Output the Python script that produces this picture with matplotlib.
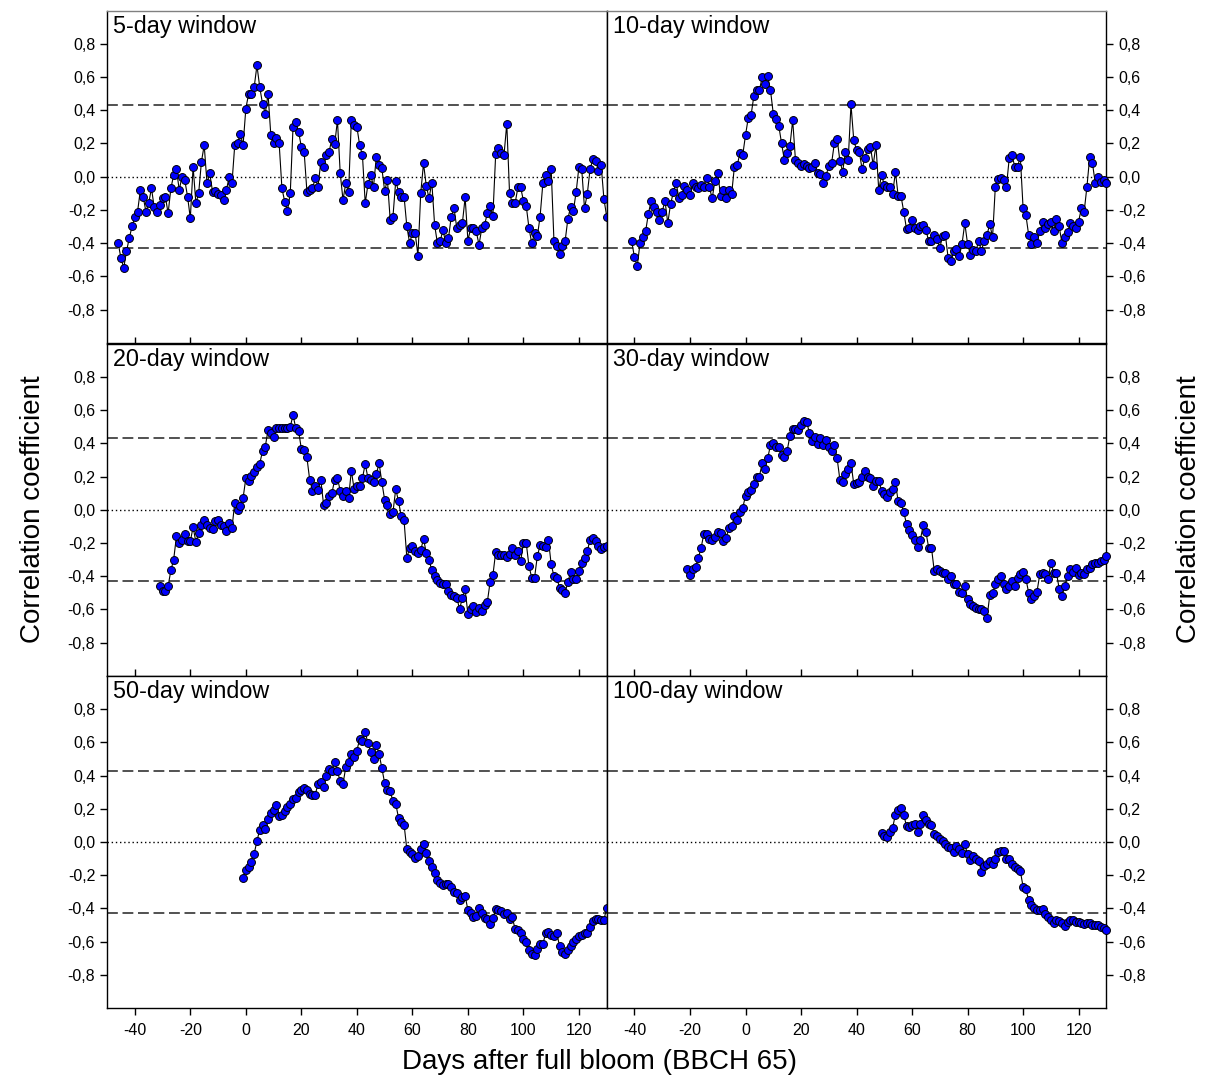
import numpy as np
import matplotlib.pyplot as plt
from matplotlib.ticker import FuncFormatter

plt.rcParams['font.family'] = ['Liberation Sans', 'DejaVu Sans']
plt.rcParams['axes.unicode_minus'] = False

# critical correlation coefficient (dashed lines)
r_crit = 0.43

# daily correlation coefficients, first value at day start_*
start_5 = -46
r_5 = [-0.40, -0.49, -0.55, -0.45, -0.37, -0.30, -0.245, -0.21, -0.08, -0.12,
       -0.21, -0.16, -0.07, -0.185, -0.21, -0.17, -0.13, -0.12, -0.22, -0.07,
       0.01, 0.045, -0.08, 0.00, -0.02, -0.12, -0.25, 0.06, -0.16, -0.10,
       0.09, 0.19, -0.04, 0.02, -0.09, -0.085, -0.105, -0.11, -0.14, -0.08,
       0.00, -0.04, 0.19, 0.20, 0.26, 0.19,
       0.41, 0.50, 0.50, 0.54, 0.67, 0.54, 0.44, 0.38, 0.50, 0.25,
       0.20, 0.235, 0.20, -0.07, -0.15, -0.205, -0.10, 0.30, 0.33, 0.27,
       0.18, 0.15, -0.09, -0.08, -0.07, -0.01, -0.06, 0.09, 0.06, 0.13,
       0.15, 0.23, 0.195, 0.34, 0.02, -0.14, -0.04, -0.095, 0.34, 0.31,
       0.30, 0.19, 0.13, -0.16, -0.045, 0.01, -0.06, 0.12, 0.07, 0.05,
       -0.085, -0.02, -0.26, -0.24, -0.025, -0.09, -0.125, -0.12, -0.30, -0.40,
       -0.34, -0.34, -0.475, -0.10, 0.08, -0.055, -0.13, -0.035, -0.29, -0.40,
       -0.39, -0.32, -0.40, -0.37, -0.24, -0.19, -0.31, -0.29, -0.28, -0.125,
       -0.385, -0.31, -0.31, -0.33, -0.41, -0.31, -0.29, -0.22, -0.175, -0.235,
       0.135, 0.17, 0.14, 0.13, 0.32, -0.10, -0.16, -0.16, -0.065, -0.065,
       -0.145, -0.175, -0.31, -0.40, -0.34, -0.36, -0.24, -0.04, 0.01, -0.025,
       0.045, -0.39, -0.42, -0.465, -0.415, -0.39, -0.255, -0.18, -0.205, -0.09,
       0.06, 0.045, -0.19, -0.105, 0.045, 0.105, 0.095, 0.035, 0.07, -0.135,
       -0.24]

start_10 = -41
r_10 = [-0.39, -0.485, -0.54, -0.40, -0.365, -0.33, -0.225, -0.145, -0.18, -0.21,
        -0.26, -0.21, -0.145, -0.28, -0.165, -0.095, -0.035, -0.13, -0.11, -0.055,
        -0.08, -0.11, -0.035, -0.065, -0.07, -0.05, -0.06, -0.005, -0.065, -0.13,
        -0.025, 0.025, -0.115, -0.08, -0.13, -0.08, -0.105, 0.06, 0.07, 0.14,
        0.13,
        0.25, 0.355, 0.37, 0.485, 0.52, 0.52, 0.60, 0.56, 0.605, 0.52,
        0.38, 0.35, 0.305, 0.20, 0.10, 0.14, 0.185, 0.34, 0.10, 0.08,
        0.065, 0.075, 0.065, 0.05, 0.06, 0.08, 0.025, 0.015, -0.035, 0.005,
        0.065, 0.08, 0.20, 0.23, 0.095, 0.03, 0.15, 0.10, 0.435, 0.22,
        0.16, 0.15, 0.045, 0.115, 0.165, 0.18, 0.07, 0.19, -0.08, 0.01,
        -0.05, -0.06, -0.06, -0.105, 0.03, -0.115, -0.115, -0.21, -0.315, -0.31,
        -0.26, -0.31, -0.32, -0.295, -0.29, -0.32, -0.39, -0.39, -0.35, -0.375,
        -0.43, -0.355, -0.35, -0.49, -0.51, -0.45, -0.435, -0.48, -0.405, -0.28,
        -0.405, -0.47, -0.44, -0.445, -0.39, -0.445, -0.385, -0.35, -0.285, -0.365,
        -0.06, -0.015, -0.01, -0.02, -0.06, 0.11, 0.13, 0.06, 0.06, 0.12,
        -0.19, -0.23, -0.35, -0.405, -0.365, -0.40, -0.33, -0.275, -0.31, -0.285,
        -0.275, -0.33, -0.255, -0.30, -0.40, -0.365, -0.335, -0.28, -0.30, -0.31,
        -0.27, -0.19, -0.21, -0.06, 0.12, 0.08, -0.04, 0.00, -0.03, -0.02,
        -0.04]

start_20 = -31
r_20 = [-0.46, -0.49, -0.49, -0.46, -0.365, -0.30, -0.16, -0.20, -0.18, -0.145,
        -0.19, -0.19, -0.105, -0.195, -0.14, -0.09, -0.06, -0.095, -0.11, -0.115,
        -0.07, -0.065, -0.09, -0.10, -0.13, -0.08, -0.11, 0.04, 0.00, 0.02,
        0.07,
        0.19, 0.175, 0.205, 0.225, 0.26, 0.275, 0.355, 0.38, 0.48, 0.46,
        0.44, 0.49, 0.495, 0.49, 0.49, 0.495, 0.50, 0.57, 0.49, 0.475,
        0.365, 0.36, 0.315, 0.18, 0.115, 0.14, 0.12, 0.18, 0.03, 0.04,
        0.085, 0.10, 0.18, 0.19, 0.115, 0.08, 0.11, 0.07, 0.235, 0.125,
        0.14, 0.145, 0.19, 0.275, 0.19, 0.18, 0.165, 0.215, 0.28, 0.165,
        0.06, 0.03, -0.025, -0.015, 0.125, 0.05, -0.04, -0.065, -0.29, -0.23,
        -0.22, -0.25, -0.26, -0.245, -0.175, -0.26, -0.305, -0.365, -0.40, -0.425,
        -0.44, -0.45, -0.45, -0.49, -0.515, -0.52, -0.53, -0.60, -0.53, -0.48,
        -0.63, -0.60, -0.58, -0.615, -0.595, -0.61, -0.575, -0.555, -0.435, -0.395,
        -0.255, -0.275, -0.27, -0.27, -0.285, -0.265, -0.23, -0.27, -0.25, -0.31,
        -0.20, -0.20, -0.34, -0.41, -0.41, -0.28, -0.215, -0.22, -0.225, -0.18,
        -0.33, -0.40, -0.41, -0.47, -0.485, -0.50, -0.435, -0.375, -0.42, -0.42,
        -0.37, -0.32, -0.29, -0.25, -0.18, -0.17, -0.19, -0.22, -0.235, -0.225,
        -0.22]

start_30 = -21
r_30 = [-0.36, -0.395, -0.355, -0.345, -0.29, -0.23, -0.145, -0.145, -0.175, -0.185,
        -0.165, -0.135, -0.14, -0.19, -0.17, -0.11, -0.10, -0.04, -0.06, -0.015,
        0.01,
        0.085, 0.105, 0.12, 0.155, 0.20, 0.20, 0.28, 0.245, 0.31, 0.39,
        0.40, 0.38, 0.38, 0.33, 0.32, 0.355, 0.445, 0.485, 0.485, 0.48,
        0.51, 0.535, 0.53, 0.465, 0.415, 0.435, 0.395, 0.43, 0.39, 0.42,
        0.38, 0.355, 0.39, 0.31, 0.18, 0.165, 0.215, 0.245, 0.28, 0.155,
        0.16, 0.165, 0.20, 0.235, 0.20, 0.19, 0.145, 0.175, 0.175, 0.115,
        0.095, 0.075, 0.105, 0.125, 0.165, 0.05, 0.04, -0.015, -0.085, -0.125,
        -0.155, -0.185, -0.225, -0.18, -0.095, -0.135, -0.23, -0.23, -0.37, -0.36,
        -0.37, -0.38, -0.38, -0.415, -0.40, -0.445, -0.445, -0.495, -0.50, -0.46,
        -0.54, -0.565, -0.58, -0.595, -0.60, -0.60, -0.61, -0.65, -0.515, -0.50,
        -0.45, -0.42, -0.40, -0.45, -0.48, -0.46, -0.43, -0.46, -0.41, -0.39,
        -0.375, -0.415, -0.50, -0.54, -0.52, -0.495, -0.39, -0.38, -0.39, -0.42,
        -0.32, -0.38, -0.38, -0.475, -0.52, -0.46, -0.40, -0.36, -0.375, -0.35,
        -0.395, -0.38, -0.385, -0.36, -0.35, -0.33, -0.32, -0.32, -0.31, -0.30,
        -0.28]

start_50 = -1
r_50 = [-0.215,
        -0.17, -0.15, -0.12, -0.07, 0.005, 0.075, 0.105, 0.08, 0.14, 0.175,
        0.195, 0.225, 0.155, 0.16, 0.185, 0.21, 0.23, 0.26, 0.265, 0.30,
        0.31, 0.325, 0.31, 0.29, 0.28, 0.285, 0.35, 0.36, 0.33, 0.40,
        0.44, 0.43, 0.48, 0.425, 0.365, 0.35, 0.45, 0.48, 0.53, 0.51,
        0.55, 0.62, 0.61, 0.66, 0.595, 0.54, 0.50, 0.585, 0.53, 0.445,
        0.355, 0.31, 0.305, 0.245, 0.23, 0.145, 0.12, 0.105, -0.045, -0.06,
        -0.07, -0.095, -0.085, -0.045, -0.01, -0.065, -0.115, -0.15, -0.185, -0.23,
        -0.25, -0.26, -0.255, -0.255, -0.27, -0.30, -0.31, -0.35, -0.33, -0.325,
        -0.41, -0.425, -0.45, -0.445, -0.40, -0.425, -0.46, -0.465, -0.495, -0.46,
        -0.405, -0.41, -0.415, -0.435, -0.43, -0.465, -0.455, -0.525, -0.53, -0.55,
        -0.585, -0.60, -0.65, -0.675, -0.68, -0.645, -0.615, -0.615, -0.55, -0.545,
        -0.56, -0.565, -0.55, -0.625, -0.665, -0.675, -0.65, -0.625, -0.60, -0.585,
        -0.565, -0.56, -0.55, -0.55, -0.515, -0.475, -0.465, -0.465, -0.47, -0.47,
        -0.395]

start_100 = 49
r_100 = [0.055, 0.035, 0.03, 0.06, 0.085, 0.165, 0.195, 0.205, 0.165, 0.095, 0.09,
         0.10, 0.11, 0.06, 0.11, 0.165, 0.135, 0.11, 0.10, 0.05, 0.035,
         0.015, 0.005, -0.01, -0.03, -0.035, -0.06, -0.025, -0.045, -0.065, -0.015,
         -0.075, -0.11, -0.085, -0.10, -0.115, -0.18, -0.145, -0.135, -0.115, -0.13,
         -0.10, -0.06, -0.055, -0.055, -0.10, -0.105, -0.135, -0.15, -0.16, -0.175,
         -0.27, -0.285, -0.35, -0.38, -0.395, -0.41, -0.41, -0.405, -0.435, -0.45,
         -0.47, -0.49, -0.47, -0.475, -0.49, -0.505, -0.485, -0.47, -0.47, -0.48,
         -0.485, -0.49, -0.495, -0.49, -0.49, -0.50, -0.50, -0.50, -0.51, -0.52,
         -0.53]

windows = [('5-day window', start_5, r_5),
           ('10-day window', start_10, r_10),
           ('20-day window', start_20, r_20),
           ('30-day window', start_30, r_30),
           ('50-day window', start_50, r_50),
           ('100-day window', start_100, r_100)]

# panel grid (figure fractions)
col_left = [0.0884, 0.5010]
width = 0.4126
rows = [0.6853, 0.3795, 0.0744]
height = 0.3049


def comma_fmt(v, pos):
    v = round(v, 1)
    if abs(v) < 1e-9:
        v = 0.0
    return ('%.1f' % v).replace('.', ',')


fig = plt.figure(figsize=(12.11, 10.89), dpi=100)

for i, (title, start, vals) in enumerate(windows):
    row, col = divmod(i, 2)
    ax = fig.add_axes([col_left[col], rows[row], width, height])

    days = np.arange(start, start + len(vals))
    ax.axhline(r_crit, color='#333333', lw=1.2, dashes=(6.5, 2.8), zorder=1)
    ax.axhline(-r_crit, color='#333333', lw=1.2, dashes=(6.5, 2.8), zorder=1)
    ax.axhline(0, color='black', lw=1.0, ls=(0, (1, 2)), zorder=1)
    # markers on the frame edge are drawn whole
    ax.plot(days, vals, '-', color='black', lw=0.8, marker='o', ms=5.7,
            mfc='#0000ff', mec='black', mew=0.7, zorder=3, clip_on=False)

    ax.set_xlim(-50, 130)
    ax.set_ylim(-1, 1)
    ax.set_xticks(range(-40, 121, 20))
    ax.set_yticks(np.arange(-0.8, 0.81, 0.2))
    ax.yaxis.set_major_formatter(FuncFormatter(comma_fmt))
    ax.tick_params(direction='out', length=5, width=1, labelsize=11.5)

    if col == 1:
        ax.yaxis.tick_right()
    last = row == 2
    ax.tick_params(axis='x', top=row > 0, bottom=last, labelbottom=last)
    if last:
        ax.tick_params(axis='x', pad=6)

    for s in ax.spines.values():
        s.set_linewidth(1.0)
    if row == 0:
        ax.spines['top'].set_color('#808080')

    ax.text(0.012, 0.988, title, transform=ax.transAxes, ha='left', va='top',
            fontsize=16.8)

fig.text(0.027, 0.5326, 'Correlation coefficient', rotation=90,
         ha='center', va='center', fontsize=20)
fig.text(0.982, 0.5326, 'Correlation coefficient', rotation=90,
         ha='center', va='center', fontsize=20)
fig.text(0.495, 0.025, 'Days after full bloom (BBCH 65)',
         ha='center', va='center', fontsize=20)

plt.savefig('out.png', dpi=100)
